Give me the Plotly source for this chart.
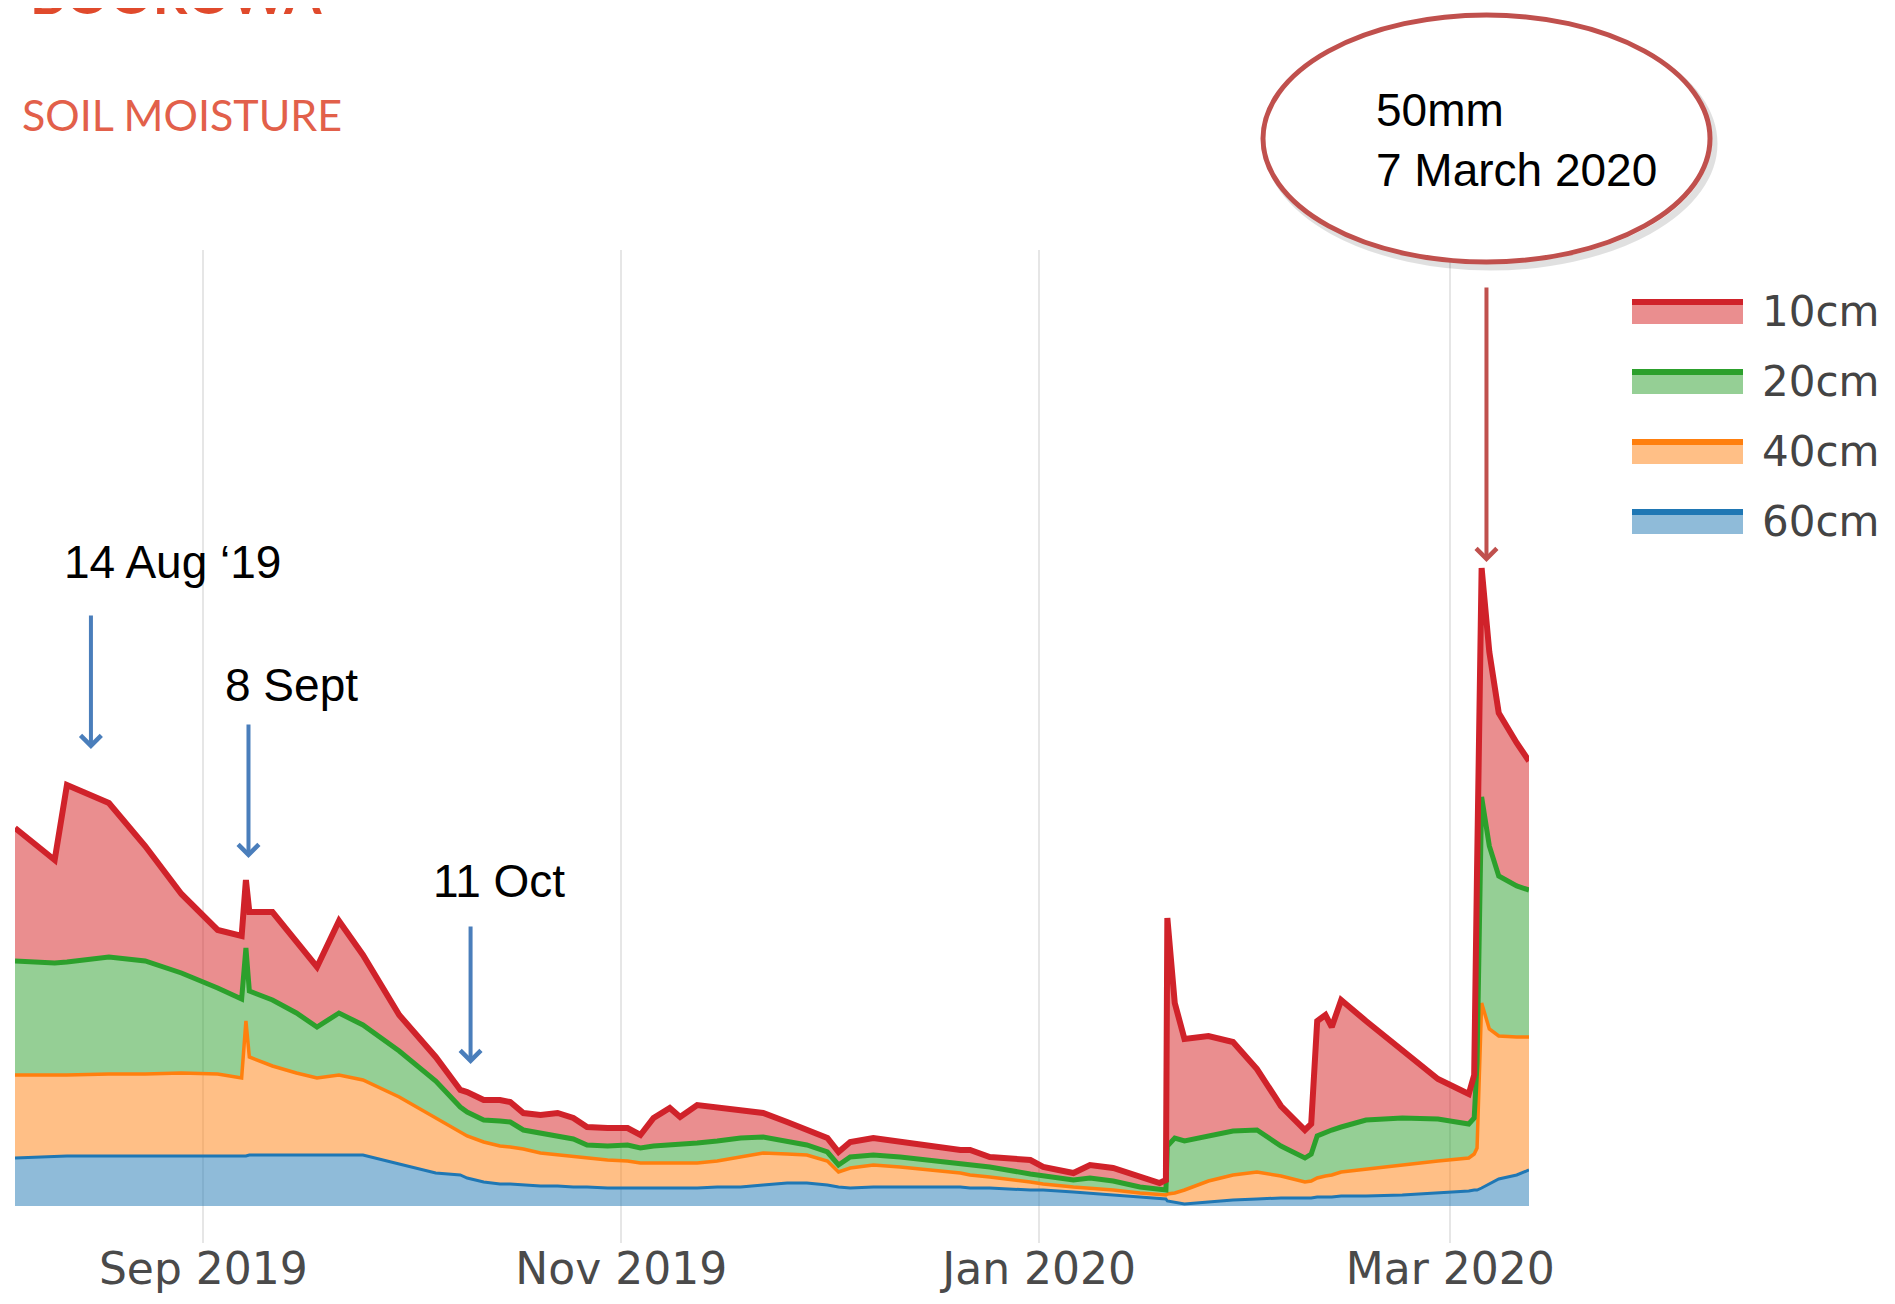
import plotly.graph_objects as go

# ── data (cumulative top of each stacked band, arbitrary moisture units) ──
dates = [
    "2019-08-04 12:00", "2019-08-10 07:00", "2019-08-12 02:00", "2019-08-18 05:00",
    "2019-08-23 12:00", "2019-08-28 19:00", "2019-09-03 02:00", "2019-09-06 14:00",
    "2019-09-07 05:00", "2019-09-07 17:00", "2019-09-11 02:00", "2019-09-14 14:00",
    "2019-09-17 14:00", "2019-09-20 19:00", "2019-09-24 07:00", "2019-09-29 14:00",
    "2019-10-04 22:00", "2019-10-08 12:00", "2019-10-09 12:00", "2019-10-11 22:00",
    "2019-10-14 07:00", "2019-10-15 19:00", "2019-10-17 17:00", "2019-10-20 05:00",
    "2019-10-22 17:00", "2019-10-25 00:00", "2019-10-27 00:00", "2019-10-30 00:00",
    "2019-11-01 22:00", "2019-11-03 19:00", "2019-11-05 17:00", "2019-11-08 02:00",
    "2019-11-09 14:00", "2019-11-12 02:00", "2019-11-15 00:00", "2019-11-18 10:00",
    "2019-11-21 17:00", "2019-11-25 05:00", "2019-11-28 02:00", "2019-12-01 02:00",
    "2019-12-02 17:00", "2019-12-04 10:00", "2019-12-07 19:00", "2019-12-11 17:00",
    "2019-12-16 02:00", "2019-12-20 12:00", "2019-12-21 22:00", "2019-12-24 19:00",
    "2019-12-30 17:00", "2020-01-01 14:00", "2020-01-06 00:00", "2020-01-08 10:00",
    "2020-01-11 19:00", "2020-01-15 17:00", "2020-01-18 14:00", "2020-01-19 12:00",
    "2020-01-19 17:00", "2020-01-20 19:00", "2020-01-22 05:00", "2020-01-25 17:00",
    "2020-01-29 07:00", "2020-02-01 19:00", "2020-02-05 07:00", "2020-02-08 19:00",
    "2020-02-09 17:00", "2020-02-10 14:00", "2020-02-11 19:00", "2020-02-12 17:00",
    "2020-02-14 02:00", "2020-02-17 17:00", "2020-02-23 00:00", "2020-02-28 05:00",
    "2020-03-03 17:00", "2020-03-04 12:00", "2020-03-04 22:00", "2020-03-05 14:00",
    "2020-03-06 17:00", "2020-03-08 02:00", "2020-03-10 17:00", "2020-03-12 12:00",
]

level_10cm = [
    37.8, 34.6, 42.1, 40.3, 36.0, 31.2, 27.6, 27.0, 32.6, 29.4, 29.4, 26.4,
    23.9, 28.5, 25.1, 19.1, 14.9, 11.6, 11.4, 10.6, 10.6, 10.4, 9.3, 9.1,
    9.3, 8.8, 7.9, 7.8, 7.8, 7.1, 8.8, 9.8, 8.9, 10.1, 9.9, 9.6,
    9.3, 8.4, 7.6, 6.8, 5.4, 6.4, 6.8, 6.4, 5.9, 5.6, 5.6, 4.9,
    4.6, 3.9, 3.3, 4.1, 3.8, 2.9, 2.3, 2.6, 28.8, 20.3, 16.7, 17.0,
    16.4, 13.7, 10.0, 7.6, 8.2, 18.5, 19.1, 17.9, 20.6, 18.5, 15.5, 12.7,
    11.2, 13.1, 33.6, 63.8, 55.4, 49.3, 46.3, 44.5,
]

level_20cm = [
    24.5, 24.3, 24.4, 24.9, 24.5, 23.3, 21.8, 20.7, 25.8, 21.5, 20.6, 19.3,
    17.9, 19.3, 18.1, 15.5, 12.5, 9.9, 9.4, 8.6, 8.5, 8.4, 7.6, 7.3,
    7.1, 6.7, 6.1, 6.0, 6.1, 5.8, 6.0, 6.1, 6.1, 6.3, 6.5, 6.8,
    6.9, 6.5, 6.1, 5.4, 4.1, 4.9, 5.1, 4.9, 4.6, 4.3, 4.2, 3.9,
    3.2, 3.0, 2.6, 2.8, 2.5, 1.9, 1.6, 1.6, 6.0, 6.8, 6.5, 7.0,
    7.5, 7.6, 6.0, 4.8, 5.2, 7.0, 7.4, 7.6, 7.9, 8.6, 8.8, 8.7,
    8.2, 8.8, 14.3, 40.9, 36.0, 33.0, 32.0, 31.6,
]

level_40cm = [
    13.1, 13.1, 13.1, 13.2, 13.2, 13.3, 13.2, 12.8, 18.5, 14.9, 14.0, 13.3,
    12.8, 13.1, 12.6, 10.9, 8.8, 7.3, 7.0, 6.4, 6.0, 5.9, 5.7, 5.3,
    5.1, 5.0, 4.8, 4.6, 4.5, 4.3, 4.3, 4.3, 4.3, 4.3, 4.5, 4.9,
    5.3, 5.2, 5.1, 4.5, 3.4, 3.8, 4.1, 3.9, 3.6, 3.3, 3.1, 2.9,
    2.4, 2.2, 1.9, 1.8, 1.6, 1.3, 1.1, 1.1, 1.2, 1.3, 1.6, 2.5,
    3.1, 3.4, 3.0, 2.4, 2.5, 2.8, 3.0, 3.1, 3.4, 3.7, 4.1, 4.5,
    4.8, 5.2, 5.8, 20.3, 17.7, 17.0, 16.9, 16.9,
]

level_60cm = [
    4.8, 5.0, 5.0, 5.0, 5.0, 5.0, 5.0, 5.0, 5.0, 5.1, 5.1, 5.1,
    5.1, 5.1, 5.1, 4.2, 3.3, 3.1, 2.8, 2.4, 2.2, 2.2, 2.1, 2.0,
    2.0, 1.9, 1.9, 1.8, 1.8, 1.8, 1.8, 1.8, 1.8, 1.8, 1.9, 1.9,
    2.1, 2.3, 2.3, 2.1, 1.9, 1.8, 1.9, 1.9, 1.9, 1.9, 1.8, 1.8,
    1.6, 1.6, 1.4, 1.3, 1.1, 0.9, 0.7, 0.7, 0.5, 0.4, 0.2, 0.4,
    0.6, 0.7, 0.8, 0.8, 0.8, 0.9, 0.9, 0.9, 1.0, 1.0, 1.1, 1.3,
    1.5, 1.6, 1.6, 1.8, 2.2, 2.7, 3.1, 3.6,
]

depth_labels = ["10cm", "20cm", "40cm", "60cm"]
tick_dates = ["2019-09-01", "2019-11-01", "2020-01-01", "2020-03-01"]
tick_labels = ["Sep 2019", "Nov 2019", "Jan 2020", "Mar 2020"]

LINE_COLORS = {"10cm": "#d0222a", "20cm": "#2ca02c", "40cm": "#ff7f0e", "60cm": "#1f77b4"}
FILL_COLORS = {
    "10cm": "rgba(214,39,40,0.52)",
    "20cm": "rgba(44,160,44,0.5)",
    "40cm": "rgba(255,127,14,0.5)",
    "60cm": "rgba(31,119,180,0.5)",
}
LINE_WIDTHS = {"10cm": 6, "20cm": 5, "40cm": 3.5, "60cm": 3}

# page is 1895x1304; the html body keeps an 8px margin
PAGE_W, PAGE_H, OFF = 1895, 1304, 8
W, H = PAGE_W - 2 * OFF, PAGE_H - 2 * OFF
# plot area, in page pixels
PL, PR, PT, PB = 15, 1529, 250, 1243


def px_x(px):
    return (px - PL) / (PR - PL)


def px_y(py):
    return (PB - py) / (PB - PT)


fig = go.Figure()

series = [("60cm", level_60cm), ("40cm", level_40cm), ("20cm", level_20cm), ("10cm", level_10cm)]
for i, (name, vals) in enumerate(series):
    fig.add_trace(
        go.Scatter(
            x=dates,
            y=vals,
            mode="lines",
            name=name,
            line=dict(color=LINE_COLORS[name], width=LINE_WIDTHS[name]),
            fill="tozeroy" if i == 0 else "tonexty",
            fillcolor=FILL_COLORS[name],
        )
    )

# custom legend (wide swatches like the original)
shapes = []
annotations = []
legend_rows = [311, 381, 451, 521]
for name, cy in zip(depth_labels, legend_rows):
    shapes.append(dict(type="rect", xref="paper", yref="paper",
                       x0=px_x(1632), x1=px_x(1743), y0=px_y(cy + 13), y1=px_y(cy - 6),
                       fillcolor=FILL_COLORS[name], line=dict(width=0)))
    shapes.append(dict(type="rect", xref="paper", yref="paper",
                       x0=px_x(1632), x1=px_x(1743), y0=px_y(cy - 6), y1=px_y(cy - 12),
                       fillcolor=LINE_COLORS[name], line=dict(width=0)))
    annotations.append(dict(text=name, xref="paper", yref="paper", x=px_x(1760), y=px_y(cy),
                            xanchor="left", yanchor="middle", showarrow=False,
                            font=dict(family="DejaVu Sans", size=42, color="#444")))

# ellipse callout with a soft shadow
shapes.append(dict(type="circle", xref="paper", yref="paper",
                   x0=px_x(1267), x1=px_x(1714), y0=px_y(267), y1=px_y(20),
                   line=dict(color="rgba(0,0,0,0.12)", width=7)))
shapes.append(dict(type="circle", xref="paper", yref="paper",
                   x0=px_x(1263), x1=px_x(1710), y0=px_y(262), y1=px_y(15),
                   fillcolor="white", line=dict(color="#c0504d", width=5)))

# titles (the site name is cut by the top edge, as in the screenshot)
annotations.append(dict(text="<b>BOOROWA</b>", xref="paper", yref="paper", x=px_x(28), y=px_y(-7),
                        xanchor="left", yanchor="middle", showarrow=False,
                        font=dict(family="Lato", size=54, color="#e04a2c")))
annotations.append(dict(text="SOIL MOISTURE", xref="paper", yref="paper", x=px_x(20), y=px_y(114),
                        xanchor="left", yanchor="middle", showarrow=False,
                        font=dict(family="Lato", size=43, color="#e2604a")))

# event labels
txt_font = dict(family="Liberation Sans", size=46, color="black")
for text, lx, ly in [("14 Aug ‘19", 62, 562), ("8 Sept", 223, 685), ("11 Oct", 431, 881)]:
    annotations.append(dict(text=text, xref="paper", yref="paper", x=px_x(lx), y=px_y(ly),
                            xanchor="left", yanchor="middle", showarrow=False, font=txt_font))
annotations.append(dict(text="50mm<br>7 March 2020", xref="paper", yref="paper",
                        x=px_x(1374), y=px_y(140), xanchor="left", yanchor="middle",
                        align="left", showarrow=False, font=txt_font))

# arrows (tip / tail in data coordinates)
arrows = [
    ("2019-08-15 14:00", 45.7, 59.2, "#4a7ebb"),
    ("2019-09-07 14:00", 34.8, 48.3, "#4a7ebb"),
    ("2019-10-10 00:00", 14.2, 28.1, "#4a7ebb"),
    ("2020-03-06 07:00", 64.4, 92.0, "#c0504d"),
]
for xd, tip, tail, col in arrows:
    annotations.append(dict(text="", x=xd, y=tip, ax=xd, ay=tail, xref="x", yref="y",
                            axref="x", ayref="y", showarrow=True, arrowhead=4,
                            arrowsize=1, arrowwidth=4, arrowcolor=col, standoff=0))

fig.update_layout(
    width=W,
    height=H,
    margin=dict(l=PL - OFF, r=PAGE_W - OFF - PR, t=PT - OFF, b=PAGE_H - OFF - PB, autoexpand=False),
    paper_bgcolor="white",
    plot_bgcolor="white",
    showlegend=False,
    shapes=shapes,
    annotations=annotations,
    xaxis=dict(
        type="date",
        range=["2019-08-04 12:00", "2020-03-12 12:00"],
        tickvals=tick_dates,
        ticktext=tick_labels,
        tickfont=dict(family="DejaVu Sans", size=44, color="#4a4a4a"),
        ticks="",
        ticklabelstandoff=-4,
        automargin=False,
        showgrid=True,
        gridcolor="#e6e6e6",
        gridwidth=2,
        zeroline=False,
        showline=False,
    ),
    yaxis=dict(range=[-3.7, 95.6], visible=False, automargin=False),
)

fig.write_html("out.html")
